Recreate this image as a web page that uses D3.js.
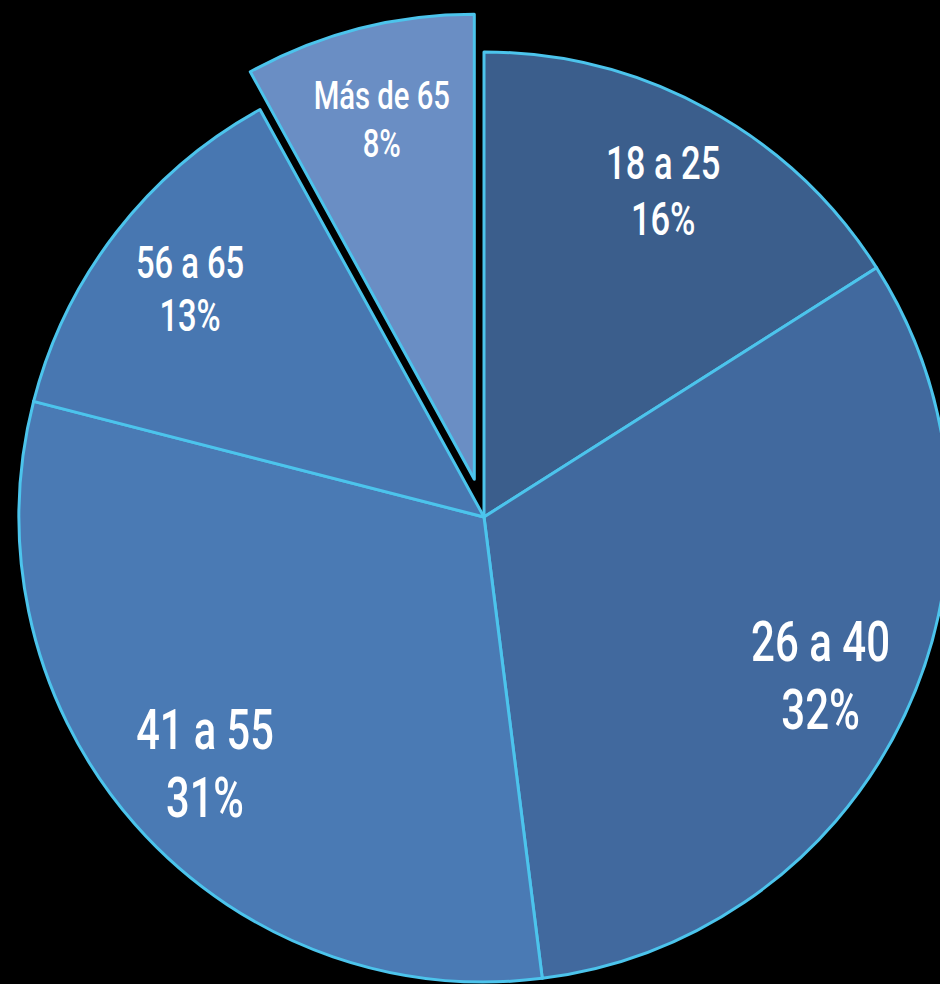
<!DOCTYPE html>
<html>
<head>
<meta charset="utf-8">
<script src="https://cdn.jsdelivr.net/npm/d3@7"></script>
<style>
  html, body { margin: 0; padding: 0; background: #000; }
  svg { display: block; }
  .label { font-family: "Roboto", "DejaVu Sans Condensed", sans-serif; font-weight: 500; fill: #fff; }
</style>
</head>
<body>
<div id="chart"></div>
<script>
// age groups and their share (%)
var categories = ["18 a 25", "26 a 40", "41 a 55", "56 a 65", "Más de 65"];
var values = [16, 32, 31, 13, 8];
var colors = ["#3b5e8c", "#41699e", "#4a7ab4", "#4877b1", "#6a8ec4"];
var exploded = ["Más de 65"];

function init() {
    var w = 940;
    var h = 984;
    var cx = 484, cy = 517;
    var radius = 465;
    var explodeOffset = 39;
    var squeeze = 0.75; // narrow the glyphs, the original uses a condensed face

    var data = categories.map(function (c, i) {
        return { name: c, value: values[i], color: colors[i] };
    });

    var pie = d3.pie()
        .sort(null)
        .value(function (d) { return d.value; });

    var arc = d3.arc().innerRadius(0).outerRadius(radius);
    var labelArc = d3.arc().innerRadius(radius * 0.8).outerRadius(radius * 0.8);

    // smaller slices get smaller labels
    var fontSize = d3.scaleSqrt()
        .domain([8, 32])
        .range([39, 56]);

    var svg = d3.select("#chart")
        .append("svg")
        .attr("width", w)
        .attr("height", h);

    var g = svg.append("g")
        .attr("transform", "translate(" + cx + "," + cy + ")");

    var slices = g.selectAll("g.slice")
        .data(pie(data))
        .enter()
        .append("g")
        .attr("class", "slice")
        .attr("transform", function (d) {
            if (exploded.indexOf(d.data.name) < 0) return null;
            var mid = (d.startAngle + d.endAngle) / 2;
            return "translate(" + (Math.sin(mid) * explodeOffset) + "," + (-Math.cos(mid) * explodeOffset) + ")";
        });

    slices.append("path")
        .attr("d", arc)
        .style("fill", function (d) { return d.data.color; })
        .style("stroke", "#4cc4ec")
        .style("stroke-width", 3)
        .style("stroke-linejoin", "round");

    var labels = slices.append("text")
        .attr("class", "label")
        .attr("text-anchor", "middle")
        .attr("transform", function (d) {
            var c = labelArc.centroid(d);
            return "translate(" + c[0] + "," + c[1] + ") scale(" + squeeze + ",1)";
        })
        .style("font-size", function (d) { return fontSize(d.data.value) + "px"; });

    labels.append("tspan")
        .attr("x", 0)
        .attr("dy", "-0.255em")
        .text(function (d) { return d.data.name; });

    labels.append("tspan")
        .attr("x", 0)
        .attr("dy", "1.22em")
        .text(function (d) { return d.data.value + "%"; });
}

window.onload = init;
</script>
</body>
</html>
